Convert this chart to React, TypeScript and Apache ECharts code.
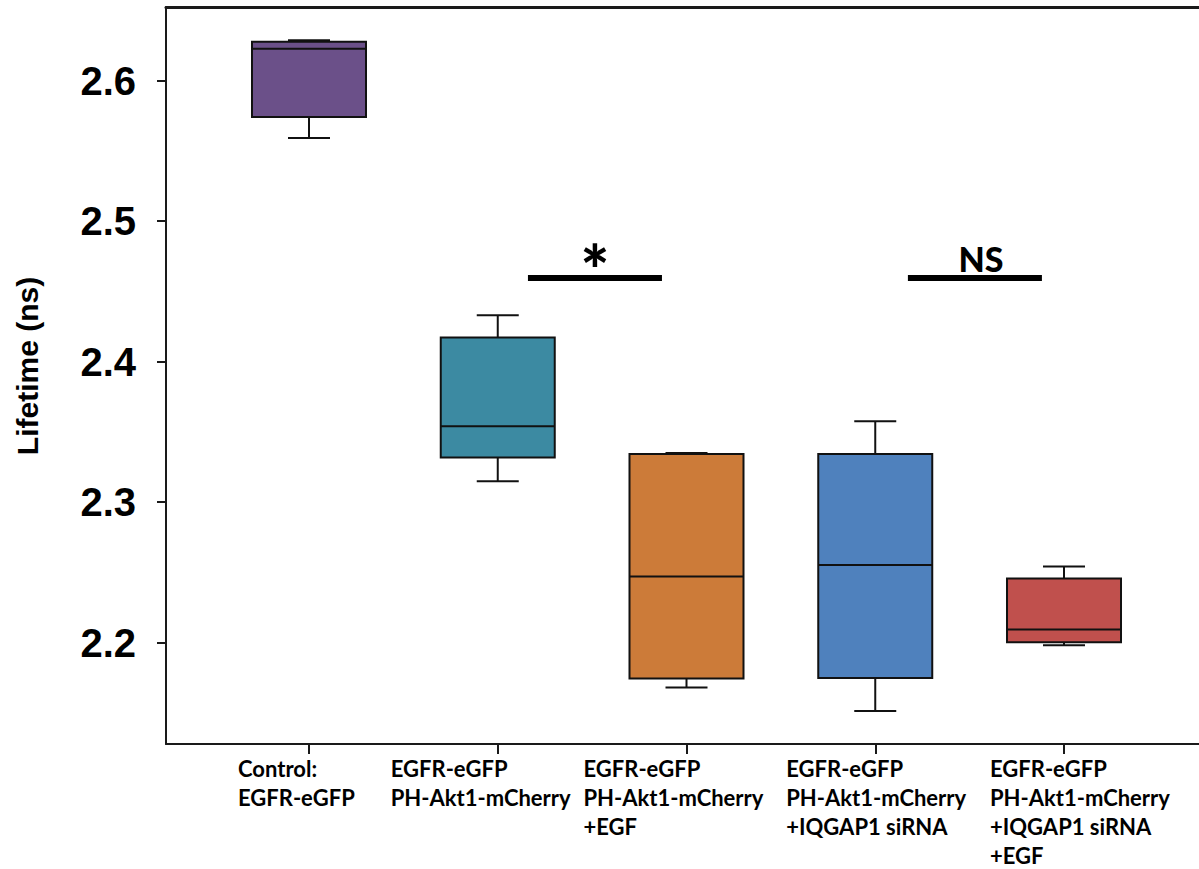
import React, { useEffect, useRef } from "react";
import * as echarts from "echarts";

// ---- data ----
const categories: string[] = [
  "Control:\nEGFR-eGFP",
  "EGFR-eGFP\nPH-Akt1-mCherry",
  "EGFR-eGFP\nPH-Akt1-mCherry\n+EGF",
  "EGFR-eGFP\nPH-Akt1-mCherry\n+IQGAP1 siRNA",
  "EGFR-eGFP\nPH-Akt1-mCherry\n+IQGAP1 siRNA\n+EGF",
];
// [min, Q1, median, Q3, max]
const boxStats: number[][] = [
  [2.5592, 2.5741, 2.6228, 2.6278, 2.6288],
  [2.3149, 2.3318, 2.3541, 2.4172, 2.4331],
  [2.168, 2.1744, 2.247, 2.3343, 2.335],
  [2.1513, 2.1748, 2.2553, 2.3343, 2.3576],
  [2.1981, 2.2002, 2.2093, 2.2456, 2.2541],
];
const boxColors: string[] = ["#6B5089", "#3C8AA2", "#CC7B39", "#4F81BD", "#C0504D"];
const yTicks: number[] = [2.2, 2.3, 2.4, 2.5, 2.6];
const yMin = 2.1278;
const yMax = 2.6525;
const xMin = -0.7576;
const xMax = 4.7152;
// significance annotations: [xStart, xEnd, y, label]
const sigBars: [number, number, number, string][] = [
  [1.16, 1.87, 2.46, "*"],
  [3.173, 3.883, 2.46, "NS"],
];
// label left offset (px) relative to each tick
const labelOffsets: number[] = [-71, -107, -103, -89, -74];

export default function App() {
  const ref = useRef<HTMLDivElement>(null);
  useEffect(() => {
    if (!ref.current) return;
    const chart = echarts.init(ref.current, undefined, { renderer: "svg" });
    const seriesData = boxStats.map((s, i) => [i, ...s]);
    const BOX_W = 114;
    const CAP_W = 42;
    const option: any = {
      animation: false,
      backgroundColor: "#ffffff",
      grid: { left: 166, top: 7, right: 0, bottom: 125 },
      xAxis: [
        {
          type: "value",
          min: xMin,
          max: xMax,
          position: "bottom",
          axisLine: { show: true, onZero: false, lineStyle: { color: "#1a1a1a", width: 2 } },
          axisTick: {
            show: true,
            customValues: [0, 1, 2, 3, 4],
            length: 10,
            lineStyle: { color: "#1a1a1a", width: 2 },
          },
          axisLabel: { show: false },
          splitLine: { show: false },
        },
        {
          type: "value",
          min: xMin,
          max: xMax,
          position: "top",
          axisLine: { show: true, onZero: false, lineStyle: { color: "#1a1a1a", width: 3 } },
          axisTick: { show: false },
          axisLabel: { show: false },
          splitLine: { show: false },
        },
      ],
      yAxis: {
        type: "value",
        min: yMin,
        max: yMax,
        axisLine: { show: true, onZero: false, lineStyle: { color: "#1a1a1a", width: 2 } },
        axisTick: {
          show: true,
          customValues: yTicks,
          length: 9,
          lineStyle: { color: "#1a1a1a", width: 2 },
        },
        axisLabel: {
          customValues: yTicks,
          formatter: (v: number) => v.toFixed(1),
          fontSize: 40,
          fontWeight: "bold",
          fontFamily: "Liberation Sans",
          color: "#000",
          margin: 30,
        },
        splitLine: { show: false },
      },
      series: [
        {
          type: "custom",
          xAxisIndex: 0,
          yAxisIndex: 0,
          data: seriesData,
          renderItem: (params: any, api: any) => {
            const x = api.value(0);
            const mn = api.coord([x, api.value(1)]);
            const q1 = api.coord([x, api.value(2)]);
            const md = api.coord([x, api.value(3)]);
            const q3 = api.coord([x, api.value(4)]);
            const mx = api.coord([x, api.value(5)]);
            const cx = mn[0];
            const hw = BOX_W / 2;
            const cw = CAP_W / 2;
            const ls = { stroke: "#111", lineWidth: 2 };
            return {
              type: "group",
              children: [
                { type: "line", shape: { x1: cx, y1: q1[1], x2: cx, y2: mn[1] }, style: ls },
                { type: "line", shape: { x1: cx - cw, y1: mn[1], x2: cx + cw, y2: mn[1] }, style: ls },
                { type: "line", shape: { x1: cx, y1: q3[1], x2: cx, y2: mx[1] }, style: ls },
                { type: "line", shape: { x1: cx - cw, y1: mx[1], x2: cx + cw, y2: mx[1] }, style: ls },
                {
                  type: "rect",
                  shape: { x: cx - hw, y: q3[1], width: BOX_W, height: q1[1] - q3[1] },
                  style: { fill: boxColors[params.dataIndex], stroke: "#111", lineWidth: 2 },
                },
                { type: "line", shape: { x1: cx - hw, y1: md[1], x2: cx + hw, y2: md[1] }, style: ls },
              ],
            };
          },
          markLine: {
            silent: true,
            symbol: "none",
            lineStyle: { color: "#000", width: 6, type: "solid" },
            data: sigBars.map((b) => [
              {
                coord: [b[0], b[2]],
                label: {
                  show: true,
                  formatter: b[3],
                  position: "insideMiddleTop",
                  distance: b[3] === "*" ? -25 : 2,
                  padding: b[3] === "*" ? 0 : [0, 0, 0, 12],
                  color: "#000",
                  fontFamily: "Lato",
                  fontWeight: "900",
                  fontSize: b[3] === "*" ? 68 : 34,
                },
              },
              { coord: [b[1], b[2]] },
            ]),
          },
        },
      ],
    };
    chart.setOption(option);

    const graphics: any[] = [
      {
        type: "text",
        id: "yname",
        x: 27,
        y: 366,
        rotation: Math.PI / 2,
        style: {
          text: "Lifetime (ns)",
          font: "bold 30px 'Liberation Sans'",
          fill: "#000",
          align: "center",
          verticalAlign: "middle",
        },
      },
    ];
    categories.forEach((c, i) => {
      const px = chart.convertToPixel({ xAxisIndex: 0 }, i) as number;
      graphics.push({
        type: "text",
        id: "xl" + i,
        x: px + labelOffsets[i],
        y: 754,
        style: {
          text: c,
          font: "bold 22px Lato",
          fill: "#000",
          align: "left",
          verticalAlign: "top",
          lineHeight: 29,
        },
      });
    });
    chart.setOption({ graphic: graphics });

    return () => chart.dispose();
  }, []);
  return (
    <div
      ref={ref}
      style={{ position: "fixed", left: 0, top: 0, width: 1199, height: 869, background: "#fff" }}
    />
  );
}
